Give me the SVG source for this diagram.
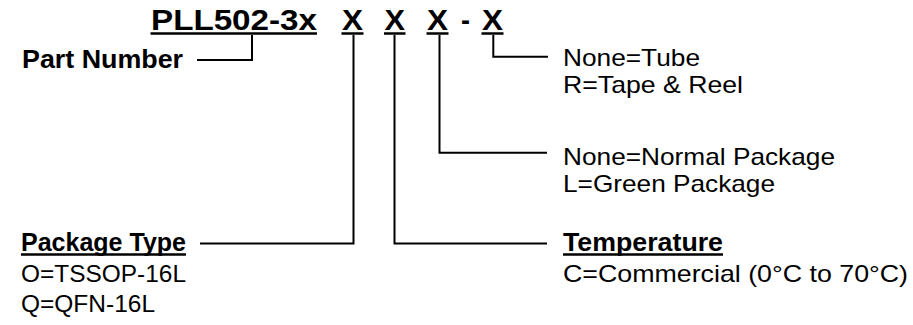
<svg xmlns="http://www.w3.org/2000/svg" width="913" height="325" viewBox="0 0 913 325">
<style>
.t{font-family:"Liberation Sans",Arial,sans-serif;fill:#000}
.b{font-weight:bold}
.title{font-size:29px}
.lbl{font-size:26px}
.txt{font-size:24px}
.ul{stroke:#000;stroke-width:2.5;fill:none}
.c{stroke:#000;stroke-width:2;fill:none}
</style>
<rect width="913" height="325" fill="#fff"/>
<g id="part-code">
<text class="t b title" x="151" y="30" textLength="166" lengthAdjust="spacingAndGlyphs">PLL502-3x</text>
<line class="ul" x1="150.5" y1="33.5" x2="317" y2="33.5"/>
<text class="t b title" x="342" y="30" textLength="21" lengthAdjust="spacingAndGlyphs">X</text>
<line class="ul" x1="341.5" y1="33.5" x2="363.5" y2="33.5"/>
<text class="t b title" x="384.5" y="30" textLength="20.5" lengthAdjust="spacingAndGlyphs">X</text>
<line class="ul" x1="384" y1="33.5" x2="405.5" y2="33.5"/>
<text class="t b title" x="427" y="30" textLength="21" lengthAdjust="spacingAndGlyphs">X</text>
<line class="ul" x1="426.5" y1="33.5" x2="448.5" y2="33.5"/>
<text class="t b title" x="461" y="30" textLength="9" lengthAdjust="spacingAndGlyphs">-</text>
<text class="t b title" x="482" y="30" textLength="21" lengthAdjust="spacingAndGlyphs">X</text>
<line class="ul" x1="481.5" y1="33.5" x2="503.5" y2="33.5"/>
</g>
<g id="part-number">
<text class="t b lbl" x="22" y="68" textLength="161" lengthAdjust="spacingAndGlyphs">Part Number</text>
</g>
<g id="packing">
<text class="t txt" x="563" y="66" textLength="137" lengthAdjust="spacingAndGlyphs">None=Tube</text>
<text class="t txt" x="563" y="93" textLength="180" lengthAdjust="spacingAndGlyphs">R=Tape &amp; Reel</text>
</g>
<g id="package-material">
<text class="t txt" x="563" y="165" textLength="272" lengthAdjust="spacingAndGlyphs">None=Normal Package</text>
<text class="t txt" x="563" y="192" textLength="212" lengthAdjust="spacingAndGlyphs">L=Green Package</text>
</g>
<g id="temperature">
<text class="t b lbl" x="563" y="251" textLength="160" lengthAdjust="spacingAndGlyphs">Temperature</text>
<line class="ul" x1="563" y1="254.5" x2="723" y2="254.5" stroke-width="2"/>
<text class="t txt" x="563" y="282" textLength="345" lengthAdjust="spacingAndGlyphs">C=Commercial (0°C to 70°C)</text>
</g>
<g id="package-type">
<text class="t b lbl" x="21" y="251" textLength="165" lengthAdjust="spacingAndGlyphs">Package Type</text>
<line class="ul" x1="21" y1="254.5" x2="186" y2="254.5" stroke-width="2"/>
<text class="t txt" x="21" y="282" textLength="165" lengthAdjust="spacingAndGlyphs">O=TSSOP-16L</text>
<text class="t txt" x="21" y="312" textLength="134" lengthAdjust="spacingAndGlyphs">Q=QFN-16L</text>
</g>
<g id="connectors">
<polyline class="c" points="252,35 252,60 197,60"/>
<polyline class="c" points="353.5,35 353.5,243.5 200,243.5"/>
<polyline class="c" points="394.5,35 394.5,243.5 547,243.5"/>
<polyline class="c" points="439.5,35 439.5,152.7 547,152.7"/>
<polyline class="c" points="493.3,35 493.3,56.7 548,56.7"/>
</g>
</svg>
